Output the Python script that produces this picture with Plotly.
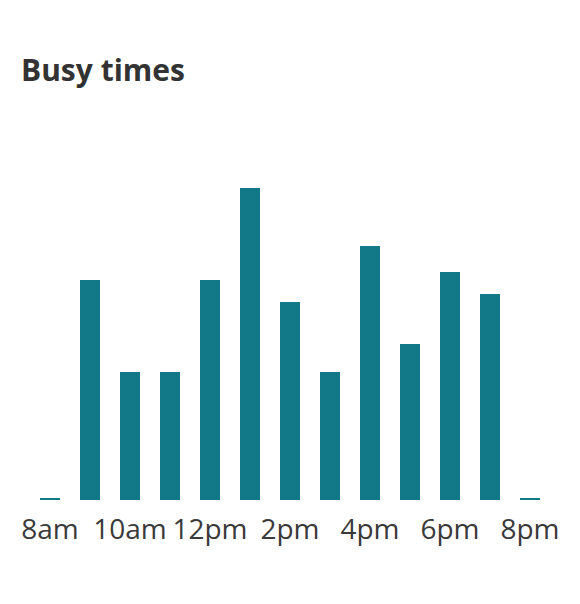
import plotly.graph_objects as go

# hourly busyness, 8am to 8pm
hours = ['8am', '9am', '10am', '11am', '12pm', '1pm', '2pm',
         '3pm', '4pm', '5pm', '6pm', '7pm', '8pm']
busy = [2, 220, 128, 128, 220, 312, 198, 128, 254, 156, 228, 206, 2]
tick_labels = ['8am', '10am', '12pm', '2pm', '4pm', '6pm', '8pm']

fig = go.Figure(go.Bar(
    x=hours,
    y=busy,
    marker_color='#117987',
    marker_line_width=0,
))

# the page puts the figure 8px in from the top-left corner
fig.update_layout(
    width=580,
    height=604,
    margin=dict(l=22, r=38, t=180, b=112),
    paper_bgcolor='white',
    plot_bgcolor='white',
    bargap=0.5,
    showlegend=False,
    font=dict(family='Open Sans', color='#333333'),
    title=dict(text='<b>Busy times</b>',
               x=13 / 580, xref='container', xanchor='left',
               y=1 - 62 / 604, yref='container', yanchor='middle',
               font=dict(size=30, family='Open Sans', color='#333333')),
)

fig.update_xaxes(
    range=[-0.5, 12.5],
    tickmode='array',
    tickvals=tick_labels,
    ticktext=tick_labels,
    tickfont=dict(size=28, color='#3a3a3a'),
    showgrid=False,
    zeroline=False,
    showline=False,
    ticks='',
    ticklabelstandoff=10,
)
fig.update_yaxes(
    range=[0, 312],
    visible=False,
    showgrid=False,
    zeroline=False,
)

fig.write_html("out.html")
